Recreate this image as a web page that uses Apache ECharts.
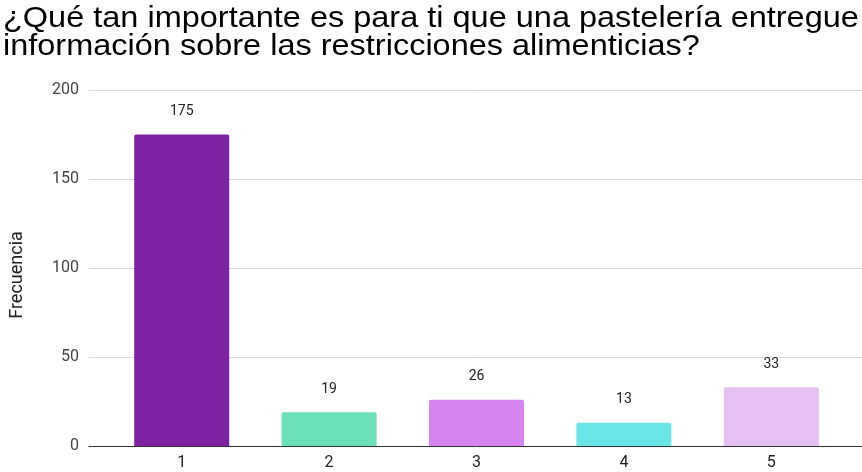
<!DOCTYPE html>
<html><head><meta charset="utf-8">
<script src="https://cdn.jsdelivr.net/npm/echarts@6/dist/echarts.min.js"></script>
<style>html,body{margin:0;padding:0;background:#fff}#c{width:862px;height:472px}</style>
</head><body><div id="c"></div>
<script>
const categories = ['1', '2', '3', '4', '5'];
const values = [175, 19, 26, 13, 33];
const barColors = ['#7f21a3', '#6ce0b8', '#d684f0', '#6ae6e8', '#e6c0f2'];
const yTicks = [0, 50, 100, 150, 200];
const titleText = '¿Qué tan importante es para ti que una pastelería entregue\ninformación sobre las restricciones alimenticias?';
const yName = 'Frecuencia';

const chart = echarts.init(document.getElementById('c'), null, {renderer: 'canvas'});
chart.setOption({
  animation: false,
  backgroundColor: '#fff',
  graphic: [{
    type: 'text', x: 3, y: 5, scaleX: 1.12, scaleY: 1,
    style: {text: titleText, font: '29px "Liberation Sans", Arial, sans-serif', fill: '#000',
            lineHeight: 28, textVerticalAlign: 'top'}
  }],
  grid: [
    {left: 108, right: 17, top: 90, bottom: 26},
    {left: 83, right: 0, top: 90, bottom: 26}
  ],
  xAxis: [
    {type: 'category', gridIndex: 0, data: categories,
     axisLine: {show: false}, axisTick: {show: false},
     axisLabel: {color: '#222', fontSize: 16, fontFamily: 'Roboto, sans-serif', margin: 9}},
    {type: 'value', gridIndex: 1, min: 0, max: 1, show: true,
     axisLine: {show: true, onZero: false, lineStyle: {color: '#333', width: 1}},
     axisTick: {show: false}, axisLabel: {show: false}, splitLine: {show: false}}
  ],
  yAxis: [
    {type: 'value', gridIndex: 0, min: 0, max: 200, interval: 50,
     axisLabel: {show: false}, splitLine: {show: false}, axisLine: {show: false}, axisTick: {show: false}},
    {type: 'value', gridIndex: 1, min: 0, max: 200, interval: 50,
     name: yName, nameLocation: 'middle', nameGap: 63,
     nameTextStyle: {color: '#222', fontSize: 18, fontFamily: 'Roboto, sans-serif', padding: [0, 14, 0, 0]},
     axisLine: {show: false}, axisTick: {show: false},
     axisLabel: {color: '#444', fontSize: 16, fontFamily: 'Roboto, sans-serif', margin: 10,
       formatter: v => yTicks.includes(v) ? String(v) : ''},
     splitLine: {lineStyle: {color: '#d9d9d9', width: 1}}}
  ],
  series: [{
    type: 'bar', xAxisIndex: 0, yAxisIndex: 0, z: 3,
    data: values.map((v, i) => ({value: v, itemStyle: {color: barColors[i]}})),
    barWidth: 95,
    itemStyle: {borderRadius: [2, 2, 0, 0]},
    label: {show: true, position: 'top', distance: 16, color: '#222', fontSize: 14, fontFamily: 'Roboto, sans-serif'}
  }]
});
</script></body></html>
